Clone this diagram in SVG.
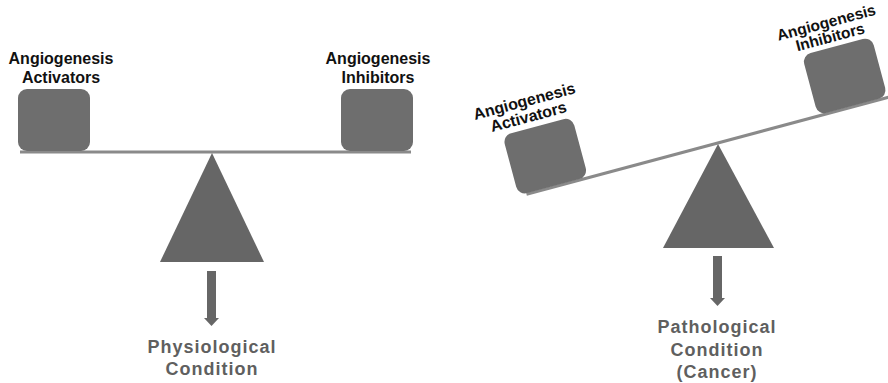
<svg xmlns="http://www.w3.org/2000/svg" width="888" height="383" viewBox="0 0 888 383">
  <defs>
    <style>
      .block { fill: #6e6e6e; }
      .fulcrum { fill: #666666; }
      .beam { stroke: #8a8a8a; stroke-width: 3; fill: none; }
      .label { font-family: "Liberation Sans", Arial, sans-serif; font-weight: bold; font-size: 16px; fill: #111111; text-anchor: middle; }
      .caption { font-family: "Liberation Sans", Arial, sans-serif; font-weight: bold; font-size: 18px; letter-spacing: 1px; fill: #5f5f5f; text-anchor: middle; }
      .down { fill: #666666; }
    </style>
  </defs>

  <!-- Balanced seesaw: physiological condition -->
  <g id="balanced-seesaw">
    <g id="left-beam">
      <line class="beam" x1="20" y1="152" x2="411" y2="152"/>
    </g>
    <g id="left-fulcrum">
      <polygon class="fulcrum" points="212,153 264,262 160,262"/>
    </g>
    <g id="left-activators">
      <rect class="block" x="18" y="89" width="72" height="62" rx="9"/>
      <text class="label" x="61" y="64">Angiogenesis</text>
      <text class="label" x="61" y="83">Activators</text>
    </g>
    <g id="left-inhibitors">
      <rect class="block" x="341" y="89" width="72" height="62" rx="9"/>
      <text class="label" x="378" y="64">Angiogenesis</text>
      <text class="label" x="378" y="83">Inhibitors</text>
    </g>
    <g id="physiological">
      <text class="caption" x="212" y="353">Physiological</text>
      <text class="caption" x="212" y="375">Condition</text>
    </g>
  </g>

  <!-- Tilted seesaw: pathological condition -->
  <g id="tilted-seesaw">
    <g id="right-beam">
      <line class="beam" x1="-198" y1="-1" x2="190" y2="-1" transform="translate(718,144) rotate(-15)"/>
    </g>
    <g id="right-fulcrum">
      <polygon class="fulcrum" points="718,144 774,248 663,248"/>
    </g>
    <g id="right-activators" transform="translate(718,144) rotate(-15)">
      <rect class="block" x="-206" y="-64" width="72" height="62" rx="9"/>
      <text class="label" x="-176" y="-86">Angiogenesis</text>
      <text class="label" x="-176" y="-70">Activators</text>
    </g>
    <g id="right-inhibitors" transform="translate(718,144) rotate(-15)">
      <rect class="block" x="104" y="-64" width="72" height="62" rx="9"/>
      <text class="label" x="136" y="-84" style="font-size:15.5px">Angiogenesis</text>
      <text class="label" x="136" y="-69" style="font-size:15.5px">Inhibitors</text>
    </g>
    <g id="pathological">
      <text class="caption" x="717" y="333">Pathological</text>
      <text class="caption" x="717" y="356">Condition</text>
      <text class="caption" x="717" y="378">(Cancer)</text>
    </g>
  </g>

  <!-- Downward arrows from each fulcrum to its condition -->
  <g id="connectors">
    <polygon class="down" points="207,271 216,271 216,318 219,318 211.5,326 204,318 207,318"/>
    <polygon class="down" points="713,256 722,256 722,298 725,298 717.5,306 710,298 713,298"/>
  </g>
</svg>
